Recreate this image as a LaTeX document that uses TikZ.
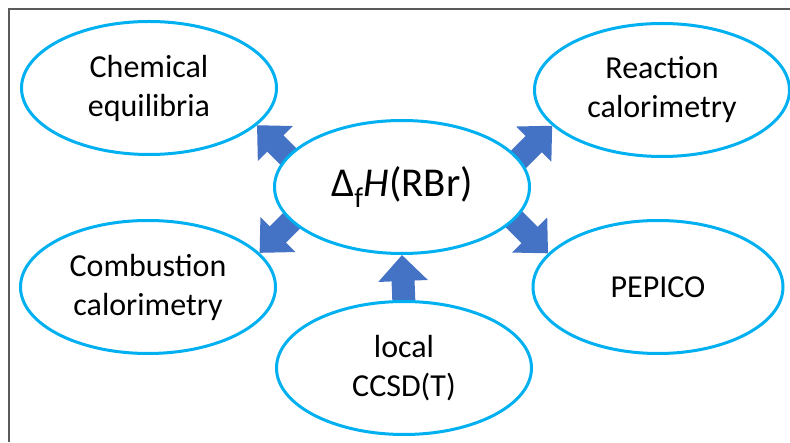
\documentclass[tikz,border=0pt]{standalone}
\usepackage{fontspec}
\setmainfont{Carlito}
\usetikzlibrary{shapes.geometric,arrows.meta,backgrounds}
\definecolor{skyline}{RGB}{0,176,240}
\definecolor{arrowblue}{RGB}{68,114,196}
\definecolor{framegray}{RGB}{90,90,90}
\begin{document}
\begin{tikzpicture}[x=1pt,y=1pt,
    bubble/.style={ellipse,draw=skyline,line width=3pt,fill=white,inner sep=0pt,
      minimum width=255pt,minimum height=133pt,align=center,
      font=\fontsize{32}{39}\selectfont},
    fat/.style={arrowblue,line width=23pt,-{Triangle[length=26pt,width=48pt]}}]
  \useasboundingbox (0,0) rectangle (790,442);
  % ellipses
  \node[bubble,font=\fontsize{41}{49}\selectfont] (cen) at (402,255)
    {Δ\textsubscript{f}\textit{H}(RBr)};
  \node[bubble] (chem) at (149,354) {Chemical\\equilibria};
  \node[bubble] (react) at (662,352) {Reaction\\calorimetry};
  \node[bubble] (comb) at (148,155) {Combustion\\calorimetry};
  \node[bubble,minimum width=250pt] (pep) at (658,155) {PEPICO};
  \node[bubble] (ccsd) at (404,74) {local\\CCSD(T)};
  % frame and arrows behind
  \begin{scope}[on background layer]
    \draw[framegray,line width=2pt] (9,0) -- (9,433) -- (790,433);
    \draw[fat] ([shift={(45,-45)}]chem.-19) -- (chem.-19);
    \draw[fat] ([shift={(-45,-45)}]react.-162) -- (react.-162);
    \draw[fat] ([shift={(45,45)}]comb.17) -- (comb.17);
    \draw[fat] ([shift={(-45,45)}]pep.163) -- (pep.163);
    \draw[fat] ([yshift=-5pt]ccsd.north) -- (cen.south);
  \end{scope}
\end{tikzpicture}
\end{document}
